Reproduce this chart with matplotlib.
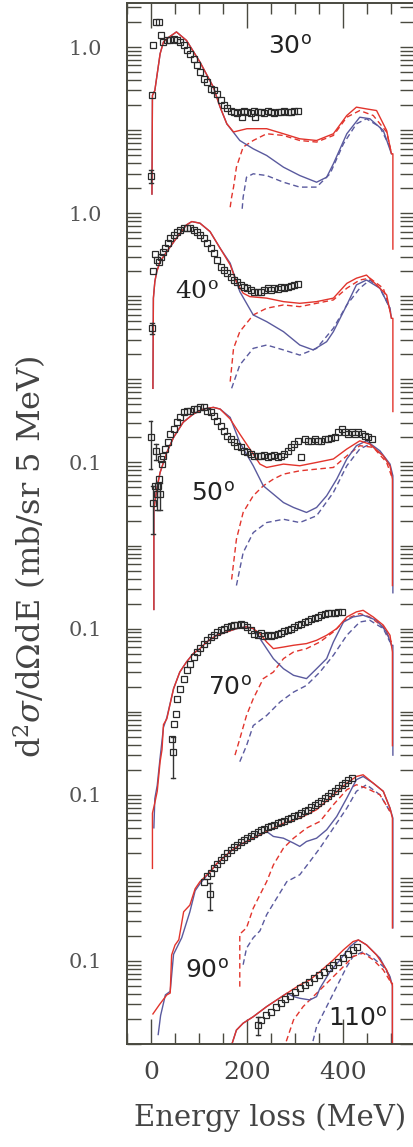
import numpy as np
import matplotlib
matplotlib.use("Agg")
import matplotlib.pyplot as plt
from matplotlib.ticker import LogLocator, NullFormatter, MultipleLocator

plt.rcParams['font.family'] = ['DejaVu Serif']
plt.rcParams['mathtext.fontset'] = 'dejavuserif'

# scattering angles, scale factor used to stack the spectra, and the axis label of each
angles = ["30", "40", "50", "70", "90", "110"]
offsets = [1.0, 1e-2, 1e-4, 1e-6, 1e-8, 1e-10]
axis_labels = ["1.0", "1.0", "0.1", "0.1", "0.1", "0.1"]
axis_label_vals = [1.0, 1.0, 0.1, 0.1, 0.1, 0.1]

# ---- 30 deg ----
data_30 = [(0, 0.0284), (2, 0.262), (5, 1.05), (10, 2.0), (17, 2.0), (21, 1.41), (26, 1.15),
           (33, 1.22), (40, 1.22), (47, 1.26), (54, 1.22), (61, 1.15), (68, 1.05), (75, 0.912),
           (82, 0.831), (89, 0.723), (96, 0.601), (103, 0.5), (110, 0.415), (117, 0.379),
           (124, 0.315), (131, 0.30), (138, 0.274), (145, 0.228), (152, 0.198), (159, 0.186),
           (166, 0.172), (173, 0.165), (180, 0.16), (187, 0.165), (189, 0.143), (194, 0.172),
           (201, 0.165), (208, 0.16), (215, 0.168), (217, 0.143), (222, 0.163), (229, 0.165),
           (236, 0.16), (243, 0.168), (250, 0.163), (257, 0.16), (264, 0.165), (271, 0.163),
           (278, 0.168), (285, 0.165), (292, 0.166), (299, 0.17), (306, 0.172)]
err_30 = [(0, 0.0284, 0.005)]
red_30 = [(2, 0.017), (3, 0.262), (8, 0.30), (12, 0.435), (19, 0.831), (26, 1.15), (33, 1.26),
          (53, 1.52), (74, 1.2), (102, 0.66), (130, 0.329), (144, 0.189), (158, 0.119),
          (172, 0.095), (200, 0.104), (241, 0.104), (276, 0.0904), (310, 0.0786), (345, 0.075),
          (380, 0.0904), (408, 0.15), (428, 0.189), (449, 0.18), (470, 0.172), (491, 0.099),
          (501, 0.0519), (504, 0.0519), (504, 0.0037)]
blue_30 = [(2, 0.017), (3, 0.262), (8, 0.30), (12, 0.435), (19, 0.831), (26, 1.15), (33, 1.26),
           (53, 1.52), (74, 1.2), (102, 0.66), (130, 0.329), (144, 0.189), (158, 0.119),
           (185, 0.075), (213, 0.0596), (241, 0.0495), (276, 0.0358), (310, 0.0284),
           (345, 0.0236), (366, 0.0271), (380, 0.0393), (408, 0.0904), (435, 0.143),
           (456, 0.137), (484, 0.099), (501, 0.0519)]
rdash_30 = [(165, 0.0118), (168, 0.0156), (172, 0.0206), (178, 0.0358), (192, 0.0625),
            (213, 0.075), (241, 0.0904), (276, 0.0862), (310, 0.075), (345, 0.0718),
            (380, 0.0862), (408, 0.143), (435, 0.172), (463, 0.15), (491, 0.095), (501, 0.0519)]
bdash_30 = [(190, 0.0113), (192, 0.0156), (199, 0.0271), (213, 0.0298), (241, 0.0284),
            (276, 0.0236), (310, 0.0206), (345, 0.0206), (373, 0.0298), (401, 0.0685),
            (428, 0.119), (449, 0.137), (477, 0.109), (498, 0.0625)]

# ---- 40 deg ----
data_40 = [(2, 0.0412), (5, 0.202), (8, 0.32), (12, 0.274), (16, 0.262), (20, 0.30), (25, 0.345),
           (30, 0.379), (35, 0.435), (40, 0.5), (47, 0.548), (54, 0.601), (61, 0.63), (68, 0.66),
           (75, 0.66), (82, 0.66), (89, 0.63), (96, 0.601), (103, 0.548), (110, 0.5),
           (117, 0.435), (124, 0.379), (131, 0.329), (138, 0.274), (145, 0.228), (152, 0.207),
           (159, 0.189), (166, 0.172), (173, 0.157), (180, 0.15), (187, 0.137), (194, 0.131),
           (201, 0.125), (208, 0.119), (215, 0.114), (222, 0.114), (229, 0.112), (236, 0.119),
           (243, 0.125), (250, 0.12), (257, 0.125), (264, 0.122), (271, 0.131), (278, 0.127),
           (285, 0.131), (292, 0.134), (299, 0.137), (306, 0.14)]
err_40 = [(2, 0.0412, 0.006)]
red_40 = [(4, 0.0078), (5, 0.095), (8, 0.15), (12, 0.198), (19, 0.262), (33, 0.345), (53, 0.5),
          (74, 0.723), (85, 0.793), (102, 0.758), (123, 0.601), (144, 0.379), (165, 0.239),
          (178, 0.15), (192, 0.109), (206, 0.099), (241, 0.095), (276, 0.0862), (310, 0.0823),
          (345, 0.0862), (380, 0.095), (408, 0.143), (428, 0.165), (449, 0.18), (470, 0.137),
          (491, 0.104), (501, 0.0543), (504, 0.0543), (504, 0.0041)]
blue_40 = [(4, 0.0078), (5, 0.095), (8, 0.15), (12, 0.198), (19, 0.262), (33, 0.345), (53, 0.5),
           (74, 0.723), (85, 0.793), (102, 0.758), (123, 0.601), (144, 0.379), (165, 0.25),
           (185, 0.114), (213, 0.0596), (241, 0.0495), (276, 0.0375), (310, 0.0259),
           (338, 0.0226), (366, 0.0284), (380, 0.0375), (408, 0.0786), (428, 0.137),
           (449, 0.157), (477, 0.125), (498, 0.0718), (501, 0.0543)]
rdash_40 = [(165, 0.0094), (172, 0.0236), (185, 0.0375), (213, 0.0596), (241, 0.0718),
            (276, 0.0786), (310, 0.075), (345, 0.0823), (380, 0.0904), (408, 0.125),
            (435, 0.157), (456, 0.165), (484, 0.125), (501, 0.0596)]
bdash_40 = [(168, 0.0078), (185, 0.0149), (213, 0.0236), (241, 0.0259), (276, 0.0226),
            (310, 0.0196), (345, 0.0236), (380, 0.0412), (408, 0.0786), (435, 0.125),
            (456, 0.157), (477, 0.125), (498, 0.0718)]

# ---- 50 deg ----
data_50 = [(-1, 0.2), (5, 0.0329), (8, 0.0523), (10, 0.138), (12, 0.0415), (14, 0.0523),
           (17, 0.063), (18, 0.0415), (20, 0.11), (23, 0.0955), (26, 0.12), (30, 0.145),
           (35, 0.174), (40, 0.22), (47, 0.252), (54, 0.304), (61, 0.348), (68, 0.4), (75, 0.42),
           (82, 0.42), (89, 0.439), (96, 0.439), (103, 0.46), (110, 0.46), (117, 0.42),
           (124, 0.4), (131, 0.365), (138, 0.317), (145, 0.277), (152, 0.241), (159, 0.21),
           (166, 0.191), (173, 0.174), (180, 0.159), (187, 0.152), (194, 0.138), (201, 0.132),
           (208, 0.126), (215, 0.12), (222, 0.12), (229, 0.118), (236, 0.122), (243, 0.115),
           (250, 0.118), (257, 0.122), (264, 0.115), (271, 0.12), (278, 0.126), (285, 0.138),
           (292, 0.152), (299, 0.166), (306, 0.182), (313, 0.115), (320, 0.191), (327, 0.182),
           (334, 0.182), (341, 0.191), (348, 0.182), (355, 0.182), (362, 0.191), (369, 0.191),
           (376, 0.195), (383, 0.2), (390, 0.23), (397, 0.252), (404, 0.23), (411, 0.22),
           (418, 0.23), (425, 0.22), (432, 0.23), (439, 0.22), (446, 0.21), (453, 0.2),
           (460, 0.191)]
err_50 = [(-1, 0.2, 0.117), (5, 0.0329, 0.019), (10, 0.138, 0.03), (12, 0.0415, 0.015),
          (18, 0.0415, 0.015)]
red_50 = [(6, 0.0017), (6, 0.0274), (12, 0.0477), (19, 0.0758), (33, 0.132), (47, 0.2),
          (67, 0.304), (88, 0.382), (109, 0.439), (130, 0.46), (144, 0.439), (165, 0.333),
          (185, 0.22), (206, 0.145), (227, 0.0955), (241, 0.087), (276, 0.0955), (310, 0.0912),
          (345, 0.1), (380, 0.11), (408, 0.145), (435, 0.182), (456, 0.166), (484, 0.12),
          (498, 0.0912), (503, 0.063), (503, 0.0033)]
blue_50 = [(6, 0.0017), (6, 0.0274), (12, 0.0477), (19, 0.0758), (33, 0.132), (47, 0.2),
           (67, 0.304), (88, 0.382), (109, 0.439), (130, 0.46), (144, 0.439), (165, 0.348),
           (185, 0.174), (213, 0.0912), (234, 0.0523), (255, 0.0415), (276, 0.0329),
           (297, 0.0287), (324, 0.025), (345, 0.0287), (366, 0.0397), (387, 0.063), (408, 0.11),
           (428, 0.159), (449, 0.182), (477, 0.138), (498, 0.0955), (504, 0.069), (504, 0.0027)]
rdash_50 = [(168, 0.0039), (178, 0.0119), (192, 0.025), (213, 0.0397), (234, 0.0523),
            (255, 0.063), (276, 0.0723), (310, 0.0793), (345, 0.0831), (380, 0.087),
            (408, 0.12), (435, 0.159), (463, 0.152), (491, 0.1), (501, 0.069)]
bdash_50 = [(178, 0.0033), (192, 0.0082), (213, 0.0143), (241, 0.0189), (276, 0.0207),
            (310, 0.0189), (345, 0.0228), (380, 0.0435), (408, 0.0912), (435, 0.145),
            (456, 0.166), (484, 0.12), (498, 0.0912)]

# ---- 70 deg ----
data_70 = [(46, 0.0033), (44, 0.0047), (48, 0.0072), (52, 0.0095), (54, 0.0143), (61, 0.0189),
           (68, 0.025), (75, 0.0315), (82, 0.0379), (89, 0.0455), (96, 0.0523), (103, 0.0585),
           (110, 0.066), (117, 0.0723), (124, 0.0793), (131, 0.0847), (138, 0.0912),
           (145, 0.0955), (152, 0.1), (159, 0.105), (166, 0.108), (173, 0.11), (180, 0.112),
           (187, 0.115), (194, 0.112), (201, 0.105), (208, 0.0955), (215, 0.087), (222, 0.0847),
           (229, 0.0895), (236, 0.0815), (243, 0.0847), (250, 0.0815), (257, 0.0847),
           (264, 0.087), (271, 0.0895), (278, 0.0929), (285, 0.0955), (292, 0.1), (299, 0.105),
           (306, 0.11), (313, 0.115), (320, 0.12), (327, 0.125), (334, 0.13), (341, 0.134),
           (348, 0.139), (355, 0.145), (362, 0.148), (369, 0.152), (376, 0.156), (383, 0.156),
           (390, 0.159), (397, 0.159)]
err_70 = [(46, 0.0033, 0.0017)]
red_70 = [(3, 0.00013), (3, 0.0006), (8, 0.0008), (13, 0.0011), (19, 0.0025), (23, 0.0035),
          (26, 0.007), (33, 0.0082), (47, 0.0189), (60, 0.03), (74, 0.0397), (88, 0.05),
          (102, 0.0574), (116, 0.069), (137, 0.0831), (158, 0.0912), (178, 0.1), (199, 0.105),
          (213, 0.1), (227, 0.087), (241, 0.069), (255, 0.0574), (276, 0.06), (297, 0.063),
          (324, 0.066), (345, 0.0723), (366, 0.0831), (387, 0.1), (408, 0.138), (428, 0.159),
          (442, 0.166), (463, 0.138), (484, 0.11), (498, 0.0831), (503, 0.0523), (503, 0.0039)]
blue_70 = [(6, 0.0004), (8, 0.0009), (13, 0.0013), (19, 0.0028), (23, 0.0045), (26, 0.0065),
           (33, 0.0085), (47, 0.0189), (60, 0.03), (74, 0.0397), (88, 0.05), (102, 0.0574),
           (116, 0.069), (137, 0.0831), (158, 0.0912), (178, 0.1), (199, 0.105), (213, 0.1),
           (227, 0.0758), (241, 0.0574), (255, 0.0435), (276, 0.0329), (297, 0.0274),
           (324, 0.025), (345, 0.0329), (366, 0.0435), (380, 0.069), (401, 0.12), (421, 0.138),
           (442, 0.145), (470, 0.126), (491, 0.0912), (501, 0.063), (504, 0.063), (504, 0.003)]
rdash_70 = [(175, 0.003), (185, 0.0047), (199, 0.009), (213, 0.0143), (234, 0.025),
            (255, 0.03), (276, 0.0435), (297, 0.0523), (324, 0.0574), (352, 0.069),
            (380, 0.0912), (408, 0.132), (435, 0.152), (456, 0.138), (484, 0.105), (501, 0.069)]
bdash_70 = [(185, 0.0025), (199, 0.0039), (213, 0.0068), (241, 0.009), (269, 0.0131),
            (297, 0.0172), (324, 0.0207), (352, 0.03), (380, 0.0477), (408, 0.0831),
            (435, 0.12), (456, 0.126), (484, 0.1), (498, 0.069)]

# ---- 90 deg ----
data_90 = [(110, 0.009), (117, 0.0104), (123, 0.0064), (124, 0.0114), (131, 0.0131),
           (138, 0.0146), (145, 0.0165), (152, 0.018), (159, 0.0198), (166, 0.0217),
           (173, 0.0232), (180, 0.025), (187, 0.0267), (194, 0.0284), (201, 0.03),
           (208, 0.0318), (215, 0.0336), (222, 0.0355), (229, 0.0375), (236, 0.039),
           (243, 0.0404), (250, 0.042), (257, 0.0435), (264, 0.0452), (271, 0.0469),
           (278, 0.0486), (285, 0.0505), (292, 0.0523), (299, 0.0548), (306, 0.0574),
           (313, 0.0601), (320, 0.063), (327, 0.066), (334, 0.0703), (341, 0.0744),
           (348, 0.0793), (355, 0.0847), (362, 0.0912), (369, 0.0973), (376, 0.104),
           (383, 0.112), (390, 0.12), (397, 0.13), (404, 0.14), (411, 0.149), (418, 0.159)]
err_90 = [(123, 0.0064, 0.0023)]
red_90 = [(4, 0.00023), (18, 0.0003), (33, 0.00039), (40, 0.00041), (43, 0.00118),
          (50, 0.00155), (58, 0.0018), (68, 0.0039), (81, 0.0047), (92, 0.0074), (102, 0.009),
          (123, 0.0118), (137, 0.0148), (165, 0.0207), (185, 0.025), (213, 0.03), (241, 0.0361),
          (276, 0.0455), (310, 0.0523), (345, 0.066), (380, 0.1), (408, 0.138), (428, 0.166),
          (442, 0.174), (463, 0.138), (484, 0.11), (498, 0.069), (503, 0.0523), (503, 0.0025)]
blue_90 = [(15, 0.00013), (20, 0.00022), (30, 0.00039), (40, 0.00043), (47, 0.0012),
           (64, 0.0019), (81, 0.0039), (92, 0.0070), (102, 0.0085), (123, 0.0118),
           (137, 0.0148), (165, 0.0207), (185, 0.025), (213, 0.03), (241, 0.0361), (255, 0.0315),
           (276, 0.03), (297, 0.0262), (310, 0.0239), (324, 0.0274), (345, 0.03), (366, 0.0379),
           (387, 0.0548), (408, 0.0912), (428, 0.152), (442, 0.166), (463, 0.138), (484, 0.11),
           (498, 0.069), (504, 0.0523), (504, 0.0025)]
rdash_90 = [(185, 0.00049), (185, 0.0021), (199, 0.0025), (213, 0.0043), (227, 0.00625),
            (241, 0.009), (255, 0.0143), (276, 0.0228), (297, 0.03), (324, 0.0397),
            (352, 0.0477), (380, 0.0758), (408, 0.115), (428, 0.132), (449, 0.12), (477, 0.1),
            (498, 0.063)]
bdash_90 = [(192, 0.0009), (199, 0.00142), (213, 0.0019), (227, 0.0023), (241, 0.0036),
            (262, 0.0057), (283, 0.009), (310, 0.0109), (331, 0.0157), (352, 0.0228),
            (380, 0.0397), (408, 0.069), (428, 0.11), (449, 0.132), (477, 0.1), (498, 0.063)]

# ---- 110 deg ----
data_110 = [(223, 0.0169), (230, 0.0195), (240, 0.0224), (250, 0.0245), (260, 0.0277),
            (270, 0.0309), (280, 0.0345), (290, 0.0379), (300, 0.0427), (310, 0.0469),
            (320, 0.0514), (330, 0.0563), (340, 0.0618), (350, 0.0678), (360, 0.0744),
            (370, 0.0816), (380, 0.0895), (390, 0.0982), (400, 0.108), (410, 0.121),
            (420, 0.136), (430, 0.149)]
err_110 = [(223, 0.0169, 0.004)]
red_110 = [(160, 0.007), (178, 0.0147), (192, 0.0178), (213, 0.0213), (241, 0.0282),
           (262, 0.0339), (283, 0.0408), (310, 0.0514), (331, 0.059), (352, 0.0744),
           (380, 0.103), (401, 0.136), (421, 0.171), (432, 0.179), (449, 0.156), (470, 0.118),
           (491, 0.0779), (501, 0.0538), (503, 0.0538), (503, 0.005)]
blue_110 = [(160, 0.007), (178, 0.0147), (192, 0.0178), (213, 0.0213), (241, 0.0282),
            (262, 0.0339), (283, 0.0408), (297, 0.0372), (310, 0.0355), (331, 0.0339),
            (345, 0.0372), (352, 0.0469), (373, 0.0744), (394, 0.103), (415, 0.149),
            (432, 0.179), (449, 0.156), (477, 0.108), (498, 0.0647), (503, 0.05), (503, 0.005)]
rdash_110 = [(276, 0.0085), (280, 0.01), (297, 0.0195), (317, 0.0282), (338, 0.0372),
             (359, 0.049), (380, 0.0647), (401, 0.0855), (421, 0.113), (442, 0.124),
             (463, 0.103), (484, 0.0779), (501, 0.0538)]
bdash_110 = [(333, 0.0085), (345, 0.0162), (366, 0.0282), (380, 0.0408), (394, 0.059),
             (408, 0.0855), (421, 0.113), (442, 0.129), (463, 0.108), (484, 0.0855),
             (498, 0.0647)]

# label positions (MeV, value in the panel's own units)
angle_text_pos = [(290, 1.0), (96, 0.11), (130, 0.042), (165, 0.0195), (117, 0.00076), (430, 0.02)]
angle_fonts = ["DejaVu Sans", "DejaVu Serif", "DejaVu Sans", "DejaVu Sans", "DejaVu Sans", "DejaVu Sans"]

all_data = [data_30, data_40, data_50, data_70, data_90, data_110]
all_err = [err_30, err_40, err_50, err_70, err_90, err_110]
all_red = [red_30, red_40, red_50, red_70, red_90, red_110]
all_blue = [blue_30, blue_40, blue_50, blue_70, blue_90, blue_110]
all_rdash = [rdash_30, rdash_40, rdash_50, rdash_70, rdash_90, rdash_110]
all_bdash = [bdash_30, bdash_40, bdash_50, bdash_70, bdash_90, bdash_110]

red = "#e2342c"
blue = "#5a5a9e"
ink = "#4a4a40"

fig = plt.figure(figsize=(4.14, 11.47), dpi=100)
ax = fig.add_axes([127 / 414, 1 - 1044 / 1147, 287 / 414, 1041 / 1147])


def xy(pairs, f):
    e = np.array([p[0] for p in pairs], dtype=float)
    v = np.array([p[1] for p in pairs], dtype=float) * f
    return e, v


for i in range(len(angles)):
    f = offsets[i]
    e, v = xy(all_bdash[i], f)
    ax.plot(e, v, color=blue, lw=1.0, ls=(0, (4, 2.5)))
    e, v = xy(all_rdash[i], f)
    ax.plot(e, v, color=red, lw=1.0, ls=(0, (4, 2.5)))
    e, v = xy(all_blue[i], f)
    ax.plot(e, v, color=blue, lw=1.0)
    e, v = xy(all_red[i], f)
    ax.plot(e, v, color=red, lw=1.0)
    for (ee, vv, err) in all_err[i]:
        ax.plot([ee, ee], [(vv - err) * f, (vv + err) * f], color="#333333", lw=1.0)
        ax.plot([ee - 4, ee + 4], [(vv - err) * f] * 2, color="#333333", lw=1.0)
        ax.plot([ee - 4, ee + 4], [(vv + err) * f] * 2, color="#333333", lw=1.0)
    e, v = xy(all_data[i], f)
    ax.plot(e, v, ls="none", marker="s", ms=4.8, mfc="none", mec="#2a2a2a", mew=0.9)
    tx, ty = angle_text_pos[i]
    ax.text(tx, ty * f, angles[i] + "$^{\\mathregular{o}}$", fontsize=18, color="#222222",
            family=angle_fonts[i], ha="center", va="center")

ax.set_yscale("log")
ax.set_xlim(-50, 548)
ax.set_ylim(1e-12, 10 ** 0.53)

decades = [10.0 ** k for k in range(-12, 1)]
tick_labels = []
label_pos = [axis_label_vals[i] * offsets[i] for i in range(len(angles))]
for d in decades:
    lab = ""
    for j, p in enumerate(label_pos):
        if abs(np.log10(d) - np.log10(p)) < 0.01:
            lab = axis_labels[j]
    tick_labels.append(lab)
ax.set_yticks(decades)
ax.set_yticklabels(tick_labels)
ax.yaxis.set_minor_locator(LogLocator(base=10, subs=np.arange(2, 10), numticks=40))
ax.yaxis.set_minor_formatter(NullFormatter())

ax.xaxis.set_major_locator(MultipleLocator(200))
ax.xaxis.set_minor_locator(MultipleLocator(50))

ax.tick_params(axis="y", which="both", direction="in", left=True, right=True,
               length=10, width=1.0, color=ink, labelsize=15, labelcolor="#555555", pad=18)
ax.tick_params(axis="x", which="major", direction="in", top=True, bottom=True,
               length=18, width=1.0, color=ink, labelsize=18, labelcolor="#444444", pad=12)
ax.tick_params(axis="x", which="minor", direction="in", top=True, bottom=True,
               length=8, width=1.0, color=ink)
for s in ax.spines.values():
    s.set_color(ink)
    s.set_linewidth(1.4)

ax.set_xlabel("Energy loss (MeV)", fontsize=21, color="#444444", labelpad=14)
fig.text(0.072, 0.515, r"d$^2\sigma$/d$\Omega$dE (mb/sr 5 MeV)", rotation=90,
         fontsize=23, color="#444444", ha="center", va="center")

fig.savefig("out.png", dpi=100)
